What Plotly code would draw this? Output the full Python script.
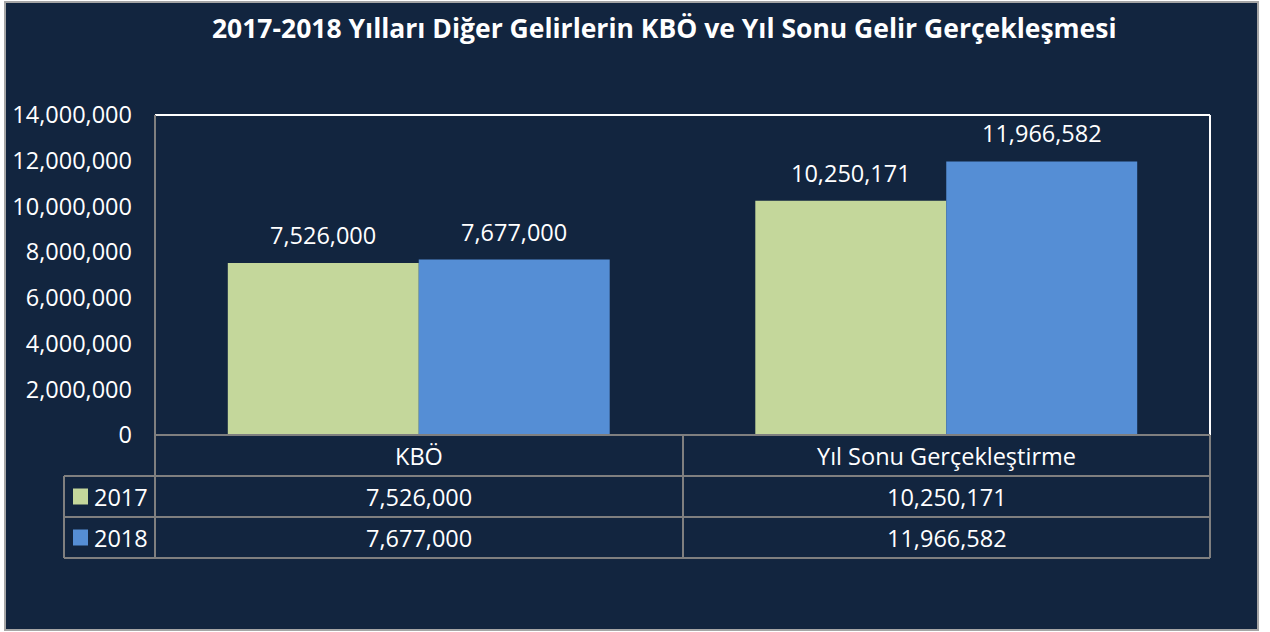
import plotly.graph_objects as go

# data
categories = ["KBÖ", "Yıl Sonu Gerçekleştirme"]
years = ["2017", "2018"]
values_2017 = [7526000, 10250171]
values_2018 = [7677000, 11966582]
y_ticks = [0, 2000000, 4000000, 6000000, 8000000, 10000000, 12000000, 14000000]

BG = "#12253F"
GREEN = "#C4D79B"
BLUE = "#558ED5"
GRID = "#7F7F7F"
FONT = "Open Sans"
FS = 23.5

W, H = 1270, 632
L, R, T, B = 155, 1210, 115, 435


def px(x):
    return (x - L) / (R - L)


def py(y):
    return (B - y) / (B - T)


fig = go.Figure()
series = [(years[0], values_2017, GREEN), (years[1], values_2018, BLUE)]
for name, vals, color in series:
    fig.add_trace(go.Bar(
        x=list(range(len(categories))), y=vals, name=name,
        marker=dict(color=color, line=dict(width=0)),
        showlegend=False,
    ))

# value labels above bars
off = 0.181
for k, (name, vals, color) in enumerate(series):
    for i, v in enumerate(vals):
        fig.add_annotation(
            x=i + (off if k else -off), y=v, xref="x", yref="y",
            text=f"{v:,}", showarrow=False, yanchor="bottom", yshift=10,
            font=dict(color="white", size=FS, family=FONT),
        )

shapes = []
# outer frame
shapes.append(dict(type="rect", xref="paper", yref="paper",
                   x0=px(5), x1=px(1258), y0=py(630), y1=py(2),
                   fillcolor=BG, line=dict(color="#A6A6A6", width=2), layer="below"))
# plot border
line_w = dict(color="white", width=2)
line_g = dict(color=GRID, width=2)
shapes.append(dict(type="line", xref="paper", yref="paper", x0=0, x1=1, y0=1, y1=1, line=line_w))
shapes.append(dict(type="line", xref="paper", yref="paper", x0=1, x1=1, y0=0, y1=1, line=line_w))
shapes.append(dict(type="line", xref="paper", yref="paper", x0=0, x1=0, y0=0, y1=1, line=line_g))

# data table grid
row_y = [435, 476, 517, 558]
col_x = [64, 155, 683, 1210]
for j, yy in enumerate(row_y):
    x0 = col_x[1] if j == 0 else col_x[0]
    shapes.append(dict(type="line", xref="paper", yref="paper",
                       x0=px(x0), x1=px(col_x[-1]), y0=py(yy), y1=py(yy), line=line_g))
for j, xx in enumerate(col_x):
    y0 = row_y[1] if j == 0 else row_y[0]
    shapes.append(dict(type="line", xref="paper", yref="paper",
                       x0=px(xx), x1=px(xx), y0=py(y0), y1=py(row_y[-1]), line=line_g))


# table text
def cell_text(x, y, text, anchor="center"):
    fig.add_annotation(x=px(x), y=py(y), xref="paper", yref="paper", text=text,
                       showarrow=False, xanchor=anchor, yanchor="middle",
                       font=dict(color="white", size=FS, family=FONT))


for i, cat in enumerate(categories):
    cx = (col_x[i + 1] + col_x[i + 2]) / 2
    cell_text(cx, (row_y[0] + row_y[1]) / 2, cat)
    for r, (name, vals, color) in enumerate(series):
        cell_text(cx, (row_y[r + 1] + row_y[r + 2]) / 2, f"{vals[i]:,}")

for r, (name, vals, color) in enumerate(series):
    yc = (row_y[r + 1] + row_y[r + 2]) / 2
    shapes.append(dict(type="rect", xref="paper", yref="paper",
                       x0=px(73), x1=px(88), y0=py(yc + 8), y1=py(yc - 8),
                       fillcolor=color, line=dict(width=0)))
    cell_text(92, yc, name, anchor="left")

fig.update_layout(
    width=W, height=H,
    paper_bgcolor="white", plot_bgcolor=BG,
    margin=dict(l=L, r=W - R, t=T, b=H - B),
    barmode="group", bargap=0.276, bargroupgap=0,
    shapes=shapes,
    title=dict(text="<b>2017-2018 Yılları Diğer Gelirlerin KBÖ ve Yıl Sonu Gelir Gerçekleşmesi</b>",
               x=0.523, xanchor="center", y=1 - 29 / H, yanchor="middle",
               font=dict(color="white", size=26.5, family=FONT)),
    xaxis=dict(range=[-0.5, 1.5], showticklabels=False, showgrid=False,
               zeroline=False, showline=False, ticks=""),
    yaxis=dict(range=[0, 14000000], tickvals=y_ticks, tickformat=",d",
               showgrid=False, zeroline=False, showline=False, ticks="",
               ticklabelstandoff=22,
               tickfont=dict(color="white", size=FS, family=FONT)),
    font=dict(family=FONT),
)

fig.write_html("out.html", config={"displayModeBar": False},
               post_script="document.body.style.margin='0';")
